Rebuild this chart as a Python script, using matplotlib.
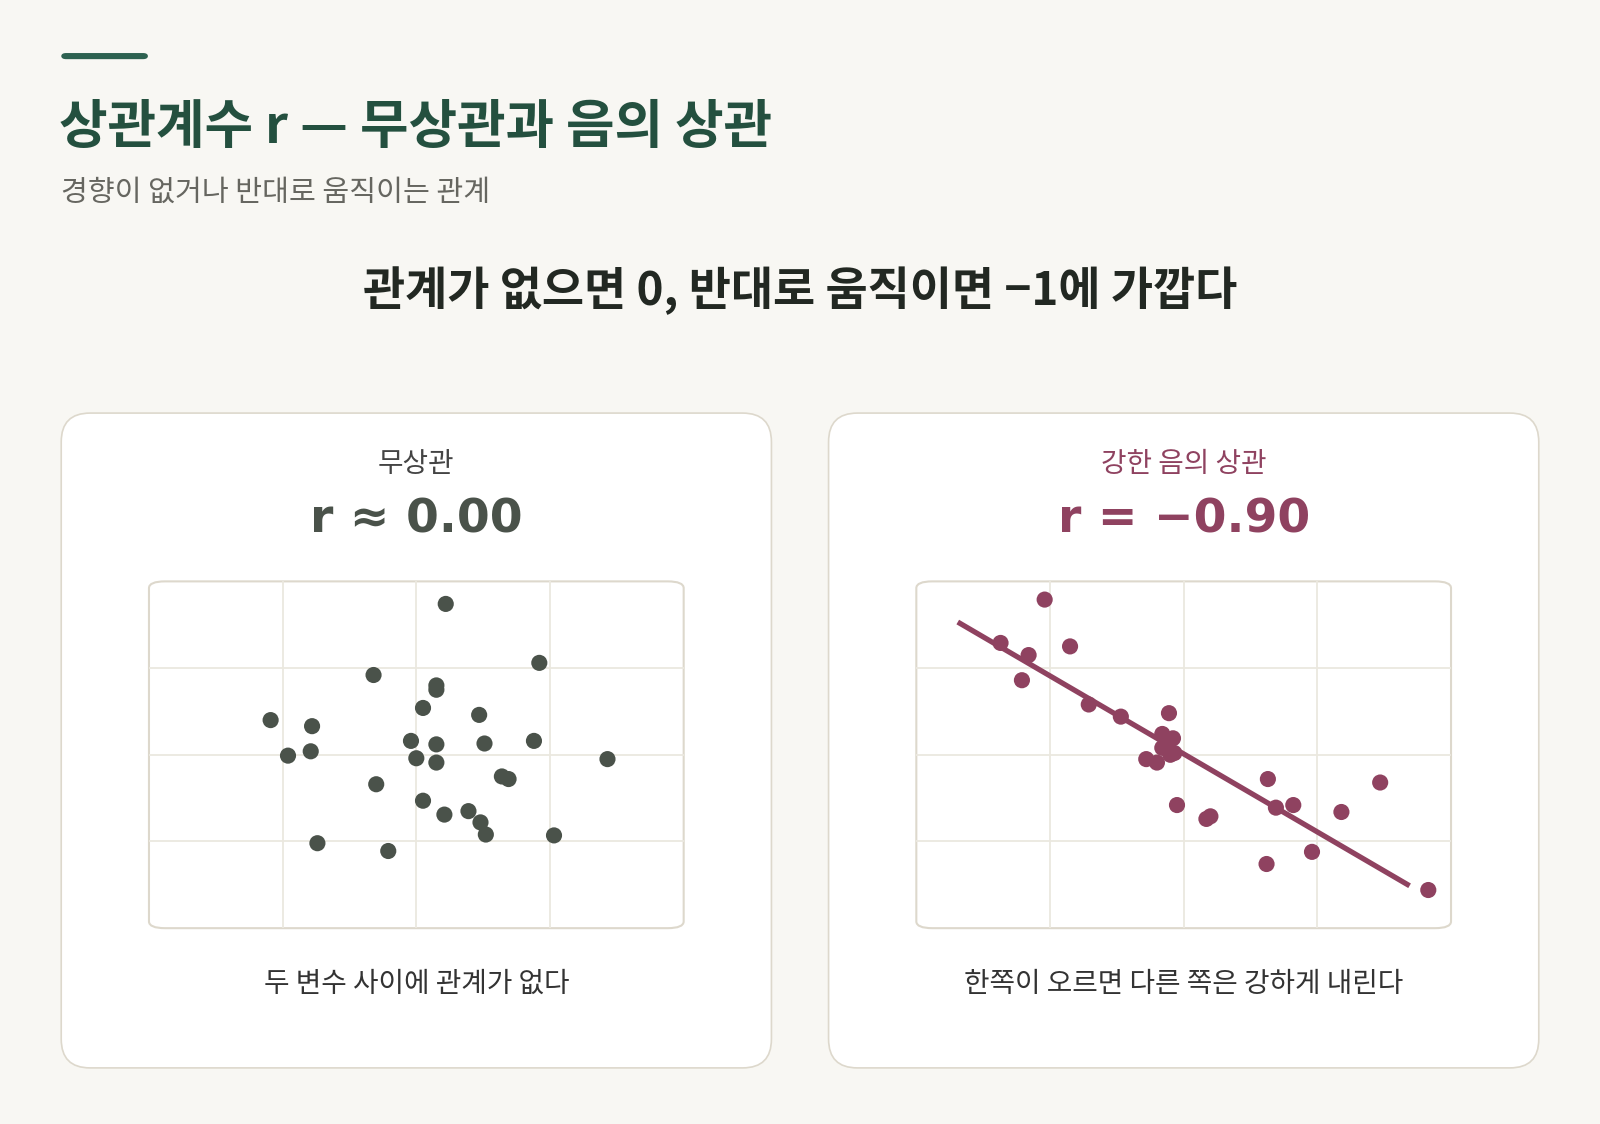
import matplotlib
matplotlib.use("Agg")
import matplotlib.pyplot as plt
from matplotlib.patches import FancyBboxPatch
import numpy as np

plt.rcParams['font.family'] = ['Noto Sans CJK KR', 'DejaVu Sans']

# Data
none_x = [2.22,2.92,1.68,2.15,2.15,2.05,2.47,0.91,1.22,1.96,2.15,2.51,2.88,1.04,1.21,2.00,2.15,3.43,2.64,2.69,1.70,2.05,2.21,2.39,2.48,2.52,3.03,1.26,1.79]
none_y = [3.74,3.06,2.92,2.80,2.75,2.54,2.46,2.40,2.33,2.16,2.12,2.13,2.16,1.99,2.04,1.96,1.91,1.95,1.75,1.72,1.66,1.47,1.31,1.35,1.22,1.08,1.07,0.98,0.89]
neg_x = [0.96,0.63,0.84,1.15,0.79,1.29,1.53,1.89,1.84,1.92,1.84,1.93,1.72,1.80,1.90,2.63,3.47,1.95,2.17,2.20,2.69,2.82,3.18,2.96,2.62,3.83]
neg_y = [3.79,3.29,3.15,3.25,2.86,2.58,2.44,2.48,2.24,2.19,2.08,2.02,1.95,1.91,2.00,1.72,1.68,1.42,1.26,1.29,1.39,1.42,1.34,0.88,0.74,0.44]
fit_x = [0.31, 3.69]
fit_a, fit_b = 3.81, -0.90

W, H = 1568.0, 1102.0
def fx(px): return px / W
def fy(py): return 1 - py / H

BG = '#f8f7f3'
GREEN = '#24503f'
DARK = '#4a524a'
RED = '#8f4260'
BORDER = '#ddd8cc'

fig = plt.figure(figsize=(16, 11.24), dpi=100, facecolor=BG)

fig.patches.append(FancyBboxPatch((fx(60), fy(58)), fx(145)-fx(60), fy(52)-fy(58),
    boxstyle="round,pad=0,rounding_size=0.003", transform=fig.transFigure,
    facecolor='#2d6150', edgecolor='none', zorder=0))

fig.text(fx(58), fy(125), "상관계수 r — 무상관과 음의 상관", fontsize=38, fontweight='bold',
         color=GREEN, va='center', ha='left')
fig.text(fx(60), fy(189), "경향이 없거나 반대로 움직이는 관계", fontsize=21, color='#666660',
         va='center', ha='left')
fig.text(fx(784), fy(285), "관계가 없으면 0, 반대로 움직이면 −1에 가깝다", fontsize=33,
         fontweight='bold', color='#222822', va='center', ha='center')

cards = [
    dict(x0=60, title="무상관", r="r ≈ 0.00", cap="두 변수 사이에 관계가 없다", color=DARK,
         tcolor='#444', xs=none_x, ys=none_y, fit=False),
    dict(x0=812, title="강한 음의 상관", r="r = −0.90", cap="한쪽이 오르면 다른 쪽은 강하게 내린다",
         color=RED, tcolor=RED, xs=neg_x, ys=neg_y, fit=True),
]

for c in cards:
    x0 = c['x0']
    x1 = x0 + 696
    fig.patches.append(FancyBboxPatch((fx(x0), fy(1047)), fx(x1)-fx(x0), fy(405)-fy(1047),
        boxstyle="round,pad=0,rounding_size=0.018", transform=fig.transFigure,
        facecolor='white', edgecolor=BORDER, linewidth=1.2, mutation_aspect=W/H, zorder=0))
    cx = (x0 + x1) / 2
    fig.text(fx(cx), fy(455), c['title'], fontsize=20, color=c['tcolor'], ha='center', va='center')
    fig.text(fx(cx), fy(510), c['r'], fontsize=34, fontweight='bold', color=c['color'],
             ha='center', va='center', family=['DejaVu Sans'])
    fig.text(fx(cx), fy(965), c['cap'], fontsize=20, color='#333', ha='center', va='center')

    ax0 = x0 + 86
    ax = fig.add_axes([fx(ax0), fy(910), fx(ax0+524)-fx(ax0), fy(570)-fy(910)])
    ax.set_zorder(5)
    ax.set_xlim(0, 4); ax.set_ylim(0, 4)
    for s in ax.spines.values(): s.set_visible(False)
    ax.set_xticks([]); ax.set_yticks([])
    ax.patch.set_alpha(0)
    ax.add_patch(FancyBboxPatch((0, 0), 4, 4, boxstyle="round,pad=0,rounding_size=0.12",
        facecolor='white', edgecolor=BORDER, linewidth=1.5, mutation_aspect=0.65,
        zorder=0, clip_on=False))
    for g in [1, 2, 3]:
        ax.axvline(g, color='#ebe8df', lw=1.3, zorder=1)
        ax.axhline(g, color='#ebe8df', lw=1.3, zorder=1)
    if c['fit']:
        xx = np.array(fit_x)
        ax.plot(xx, fit_a + fit_b * xx, color=RED, lw=3.8, zorder=2, solid_capstyle='butt')
    ax.scatter(c['xs'], c['ys'], s=135, color=c['color'], edgecolor='none', zorder=3, clip_on=False)

fig.savefig("out.png", dpi=100, facecolor=BG)
